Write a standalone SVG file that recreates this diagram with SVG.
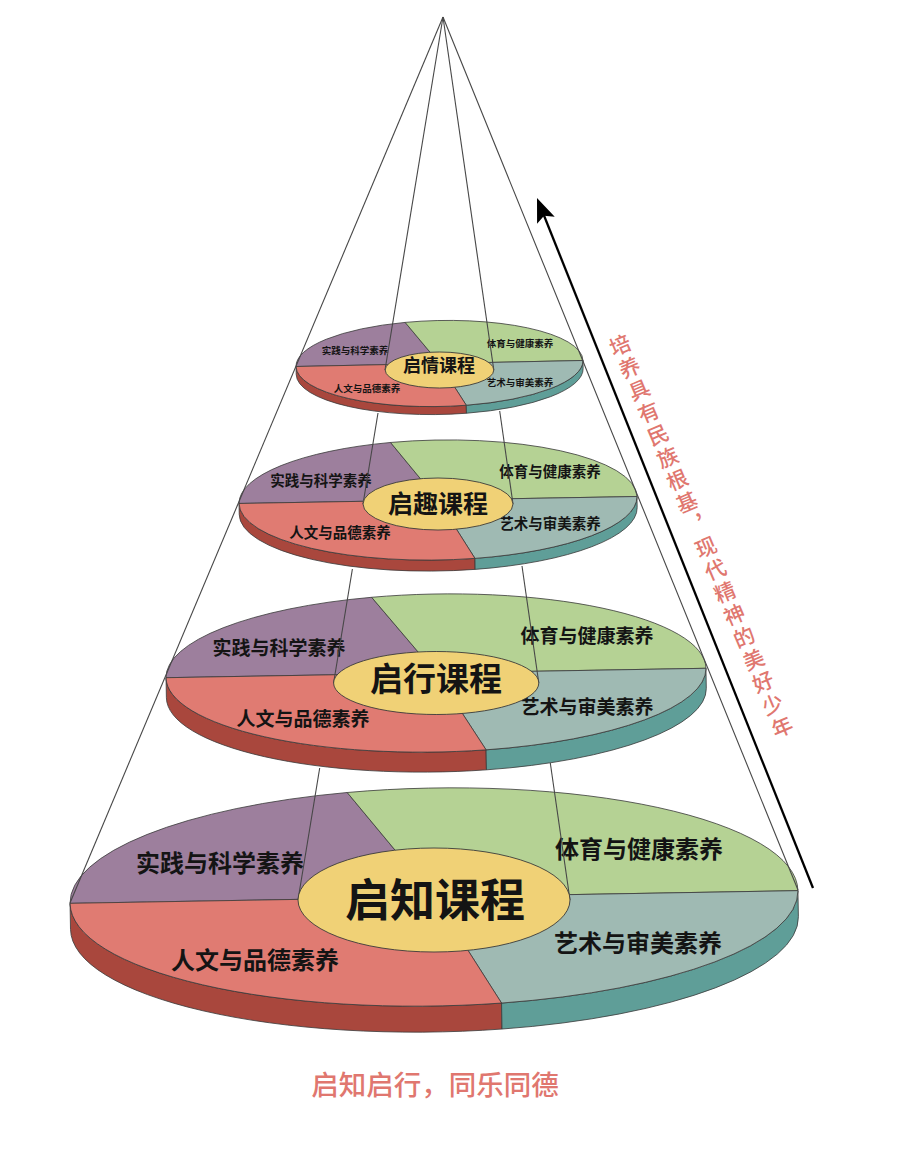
<svg xmlns="http://www.w3.org/2000/svg" width="903" height="1152" viewBox="0 0 903 1152">
<style>
.pu{fill:#9d7f9d;stroke:#3a3a3a;stroke-width:0.8;stroke-linejoin:round}
.gr{fill:#b5d294;stroke:#3a3a3a;stroke-width:0.8;stroke-linejoin:round}
.tl{fill:#9fbab3;stroke:#3a3a3a;stroke-width:0.8;stroke-linejoin:round}
.rd{fill:#e07b72;stroke:#3a3a3a;stroke-width:0.8;stroke-linejoin:round}
.rs{fill:#a9473d;stroke:#3a3a3a;stroke-width:0.8;stroke-linejoin:round}
.ts{fill:#5f9e98;stroke:#3a3a3a;stroke-width:0.8;stroke-linejoin:round}
.hub{fill:#f0d176;stroke:#3a3a3a;stroke-width:0.9}
.ln{stroke:#474747;stroke-width:1.1;fill:none}
.lb{font-family:"Noto Sans CJK SC","Noto Sans",sans-serif;font-weight:700;fill:#141414;text-anchor:middle}
.pk{font-family:"Noto Sans CJK SC","Noto Sans",sans-serif;font-weight:500;fill:#e0776f}
</style>
<defs>
<marker id="ah" viewBox="-26 -12 30 24" refX="-7" refY="0" markerWidth="30" markerHeight="24" markerUnits="userSpaceOnUse" orient="auto">
<path d="M0,0 L-24,-9.5 L-19,0 L-24,9.5 Z" fill="#000"/>
</marker>
</defs>
<rect width="903" height="1152" fill="#fff"/>

<g id="disk1">
<g transform="translate(439.5 363.5) rotate(-1.2)">
<path class="rs" d="M-143.5,0 L-143.5,8 A143.5,43 0 0 0 25.9,50.29 L25.9,42.29 A143.5,43 0 0 1 -143.5,0 Z"/>
<path class="ts" d="M25.9,42.29 L25.9,50.29 A143.5,43 0 0 0 143.5,8 L143.5,0 A143.5,43 0 0 1 25.9,42.29 Z"/>
<path class="pu" d="M0,0 L-143.5,0 A143.5,43 0 0 1 -33.49,-41.81 Z"/>
<path class="gr" d="M0,0 L-33.49,-41.81 A143.5,43 0 0 1 143.5,0 Z"/>
<path class="tl" d="M0,0 L143.5,0 A143.5,43 0 0 1 25.9,42.29 Z"/>
<path class="rd" d="M0,0 L25.9,42.29 A143.5,43 0 0 1 -143.5,0 Z"/>
</g>
<text class="lb" x="355" y="353.5" font-size="9.5">实践与科学素养</text>
<text class="lb" x="520" y="346.5" font-size="9.5">体育与健康素养</text>
<text class="lb" x="367" y="391.5" font-size="9.5">人文与品德素养</text>
<text class="lb" x="520" y="385.5" font-size="9.5">艺术与审美素养</text>
</g>

<g id="disk2">
<g transform="translate(438 500) rotate(-1)">
<path class="rs" d="M-199,0 L-199,11 A199,60 0 0 0 35.92,70.02 L35.92,59.02 A199,60 0 0 1 -199,0 Z"/>
<path class="ts" d="M35.92,59.02 L35.92,70.02 A199,60 0 0 0 199,11 L199,0 A199,60 0 0 1 35.92,59.02 Z"/>
<path class="pu" d="M0,0 L-199,0 A199,60 0 0 1 -46.45,-58.34 Z"/>
<path class="gr" d="M0,0 L-46.45,-58.34 A199,60 0 0 1 199,0 Z"/>
<path class="tl" d="M0,0 L199,0 A199,60 0 0 1 35.92,59.02 Z"/>
<path class="rd" d="M0,0 L35.92,59.02 A199,60 0 0 1 -199,0 Z"/>
</g>
<text class="lb" x="321" y="486.4" font-size="14.5">实践与科学素养</text>
<text class="lb" x="550" y="477.4" font-size="14.5">体育与健康素养</text>
<text class="lb" x="340" y="538.4" font-size="14.5">人文与品德素养</text>
<text class="lb" x="550" y="529.4" font-size="14.5">艺术与审美素养</text>
</g>

<g id="disk3">
<g transform="translate(436 673) rotate(-1)">
<path class="rs" d="M-270,0 L-270,20 A270,79 0 0 0 48.74,97.7 L48.74,77.7 A270,79 0 0 1 -270,0 Z"/>
<path class="ts" d="M48.74,77.7 L48.74,97.7 A270,79 0 0 0 270,20 L270,0 A270,79 0 0 1 48.74,77.7 Z"/>
<path class="pu" d="M0,0 L-270,0 A270,79 0 0 1 -63.02,-76.82 Z"/>
<path class="gr" d="M0,0 L-63.02,-76.82 A270,79 0 0 1 270,0 Z"/>
<path class="tl" d="M0,0 L270,0 A270,79 0 0 1 48.74,77.7 Z"/>
<path class="rd" d="M0,0 L48.74,77.7 A270,79 0 0 1 -270,0 Z"/>
</g>
<text class="lb" x="279" y="655" font-size="19">实践与科学素养</text>
<text class="lb" x="587" y="643" font-size="19">体育与健康素养</text>
<text class="lb" x="303" y="726" font-size="19">人文与品德素养</text>
<text class="lb" x="587" y="714" font-size="19">艺术与审美素养</text>
</g>

<g id="disk4">
<g transform="translate(434 897) rotate(-1)">
<path class="rs" d="M-364,0 L-364,26 A364,109 0 0 0 65.7,133.21 L65.7,107.21 A364,109 0 0 1 -364,0 Z"/>
<path class="ts" d="M65.7,107.21 L65.7,133.21 A364,109 0 0 0 364,26 L364,0 A364,109 0 0 1 65.7,107.21 Z"/>
<path class="pu" d="M0,0 L-364,0 A364,109 0 0 1 -84.96,-105.99 Z"/>
<path class="gr" d="M0,0 L-84.96,-105.99 A364,109 0 0 1 364,0 Z"/>
<path class="tl" d="M0,0 L364,0 A364,109 0 0 1 65.7,107.21 Z"/>
<path class="rd" d="M0,0 L65.7,107.21 A364,109 0 0 1 -364,0 Z"/>
</g>
<text class="lb" x="220" y="871.9" font-size="24">实践与科学素养</text>
<text class="lb" x="639" y="857.9" font-size="24">体育与健康素养</text>
<text class="lb" x="255" y="968.9" font-size="24">人文与品德素养</text>
<text class="lb" x="638" y="951.9" font-size="24">艺术与审美素养</text>
</g>

<g id="connectors">
<path class="ln" d="M443,17 L70,903"/>
<path class="ln" d="M443,17 L798,890"/>
<path class="ln" d="M443,17 L385,370"/>
<path class="ln" d="M443,17 L493.8,370"/>
<path class="ln" d="M378,413 L363,504"/>
<path class="ln" d="M499.7,411 L513,504"/>
<path class="ln" d="M352.4,569 L333.6,683"/>
<path class="ln" d="M522,566 L538.8,683"/>
<path class="ln" d="M319.7,768 L298,900"/>
<path class="ln" d="M550.3,763 L570,900"/>
</g>

<g id="hub1">
<ellipse class="hub" cx="439.5" cy="370" rx="54.3" ry="18"/>
<text class="lb" x="439" y="371.7" font-size="18">启情课程</text>
</g>
<g id="hub2">
<ellipse class="hub" cx="438" cy="504" rx="75" ry="26"/>
<text class="lb" x="438" y="512.5" font-size="25">启趣课程</text>
</g>
<g id="hub3">
<ellipse class="hub" cx="436.2" cy="683" rx="102.6" ry="31.5"/>
<text class="lb" x="436" y="691.2" font-size="33">启行课程</text>
</g>
<g id="hub4">
<ellipse class="hub" cx="434" cy="900" rx="136" ry="52"/>
<text class="lb" x="435" y="916.6" font-size="45">启知课程</text>
</g>

<g id="growth-arrow">
<path d="M813,888 L539.6,204.5" stroke="#000" stroke-width="2.3" fill="none" marker-end="url(#ah)"/>
<text class="pk" font-size="21" transform="translate(620 345) rotate(-23)" x="0" y="-10.5" style="writing-mode:vertical-rl;letter-spacing:3.4px">培养具有民族根基，现代精神的美好少年</text>
</g>

<g id="motto">
<text class="pk" x="435" y="1095" font-size="27.5" text-anchor="middle">启知启行，同乐同德</text>
</g>
</svg>
